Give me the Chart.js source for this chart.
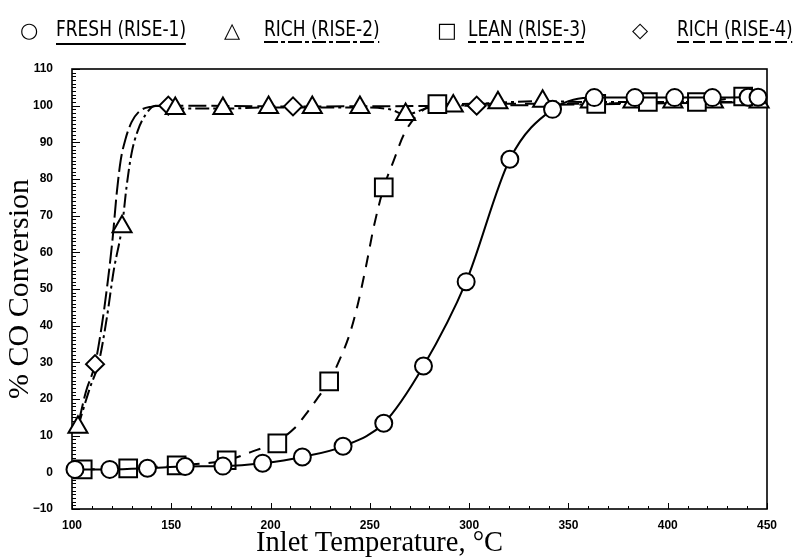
<!DOCTYPE html>
<html><head><meta charset="utf-8">
<script src="https://cdn.jsdelivr.net/npm/chart.js@4.4.1/dist/chart.umd.min.js"></script>
<style>
html,body{margin:0;padding:0;background:#fff;}
#wrap{position:relative;width:799px;height:558px;}
#c{position:absolute;left:0;top:0;}
#legend{position:absolute;left:0;top:0;width:799px;height:60px;color:#000;}
.sym{position:absolute;top:18px;font-family:'DejaVu Sans',sans-serif;font-weight:bold;font-size:21px;line-height:24px;}
.lab{position:absolute;top:18px;font-family:'Liberation Sans Narrow','DejaVu Sans Condensed','Liberation Sans',sans-serif;font-size:22px;line-height:22px;white-space:nowrap;padding-bottom:3px;transform:scaleX(0.86);transform-origin:0 0;}
.u1{border-bottom:2px solid #000;}
.u2{background:repeating-linear-gradient(to right,#000 0 16px,transparent 16px 20px,#000 20px 24px,transparent 24px 28px) left bottom/100% 2px no-repeat;}
.u3{background:repeating-linear-gradient(to right,#000 0 9px,transparent 9px 14px) left bottom/100% 2px no-repeat;}
.u4{background:repeating-linear-gradient(to right,#000 0 14px,transparent 14px 19px) left bottom/100% 2px no-repeat;}
#xtitle{position:absolute;left:256px;top:528px;font-family:'Liberation Serif',serif;font-size:28.5px;line-height:28px;white-space:nowrap;color:#000;}
</style>
</head><body>
<div id="wrap">
<canvas id="c" width="799" height="558"></canvas>
<div id="legend">
<span class="sym" style="left:20px">○</span><span class="lab u1" style="left:56px">FRESH (RISE-1)</span>
<span class="sym" style="left:224px">△</span><span class="lab u2" style="left:264px">RICH (RISE-2)</span>
<span class="sym" style="left:437px">□</span><span class="lab u3" style="left:468px">LEAN (RISE-3)</span>
<span class="sym" style="left:632px">◇</span><span class="lab u4" style="left:677px">RICH (RISE-4)</span>
</div>
<div id="xtitle">Inlet Temperature, °C</div>
</div>
<script>
// ---- data ----
const xTickValues = [100, 150, 200, 250, 300, 350, 400, 450];
const yTickValues = [-10, 0, 10, 20, 30, 40, 50, 60, 70, 80, 90, 100, 110];

const freshX = [101.5, 119, 138, 157, 176, 196, 216, 236.5, 257, 277, 298.5, 320.5, 342, 363, 383.5, 403.5, 422.5, 440.5, 445.5];
const freshY = [0.8, 0.8, 1.1, 1.6, 1.7, 2.5, 4.2, 7.1, 13.4, 29, 52, 85.4, 99, 102.2, 102.2, 102.2, 102.2, 102.3, 102.3];

const rich2X = [103, 125.2, 152, 176, 199, 221, 245, 268, 292, 314.5, 337, 361, 382.5, 402.6, 423, 446];
const rich2Y = [12.3, 67, 99.2, 99.2, 99.5, 99.5, 99.5, 97.6, 99.9, 100.8, 101.2, 101, 101, 101, 101, 101];

const leanX = [105.4, 128.3, 152.7, 177.9, 203.4, 229.5, 257, 284, 364, 390, 414.7, 438];
const leanY = [0.8, 1.1, 1.9, 3.3, 7.9, 24.8, 77.7, 100.4, 100.5, 101, 101, 102.5];

const rich4X = [111.6, 148.5, 211.3, 303.8];
const rich4Y = [29.5, 100, 99.8, 100];

// fitted curves as drawn in the reference
const rich2CurveX = [103, 105, 109, 113.5, 117.5, 121, 125.2, 127.5, 130, 133, 137, 142, 152, 176, 199, 221, 245, 260, 268, 280, 292, 314.5, 337, 361, 382.5, 402.6, 423, 446];
const rich2CurveY = [12.3, 16, 23, 30, 42, 55, 67, 78, 87, 93, 97.5, 100, 99.2, 99.2, 99.5, 99.5, 99.5, 99, 97.6, 99.5, 99.9, 100.8, 101.2, 101, 101, 101, 101, 101];

const rich4CurveX = [103.5, 107, 111.6, 115, 118, 120.5, 122.5, 124.5, 127, 130, 134, 140, 148.5, 211.3, 303.8, 446];
const rich4CurveY = [14, 22, 29.5, 40, 52, 64, 76, 85, 91, 95.5, 98.5, 99.7, 100, 99.8, 100, 101];

const leanCurveX = [105.4, 128.3, 152.7, 177.9, 190, 203.4, 212, 218, 224, 229.5, 235, 240, 244, 248, 252, 257, 262, 267, 274, 284, 310, 337, 364, 390, 414.7, 438];
const leanCurveY = [0.8, 1.1, 1.9, 3.3, 5.5, 8.5, 12, 16, 20.5, 24.8, 31, 38, 46, 56, 67, 77.7, 85, 92, 97.5, 100.4, 100.5, 100.5, 100.5, 101, 101, 102.5];

const zip = (xs, ys) => xs.map((x, i) => ({x: x, y: ys[i]}));

const marker = (label, xs, ys, style, r, order, line) => ({
  label: label, data: zip(xs, ys), pointStyle: style, pointRadius: r, pointHoverRadius: r,
  pointBackgroundColor: '#fff', pointBorderColor: '#000', pointBorderWidth: 2,
  showLine: !!line, borderColor: '#000', borderWidth: 2, cubicInterpolationMode: 'monotone',
  order: order, clip: false
});
const curve = (label, xs, ys, dash) => ({
  label: label, data: zip(xs, ys), pointRadius: 0, showLine: true, borderColor: '#000',
  borderWidth: 2, borderDash: dash, cubicInterpolationMode: 'monotone', order: 10, clip: false
});

const frame = {
  id: 'frame',
  beforeDatasetsDraw(chart) {
    const {ctx, chartArea: a, scales: {x, y}} = chart;
    ctx.save();
    ctx.strokeStyle = '#000';
    ctx.lineWidth = 1.6;
    ctx.strokeRect(a.left, a.top, a.right - a.left, a.bottom - a.top);
    ctx.lineWidth = 1;
    for (let v = y.min; v <= y.max; v++) {
      const py = Math.round(y.getPixelForValue(v)) + 0.5;
      const len = v % 10 === 0 ? 8 : 4;
      ctx.beginPath(); ctx.moveTo(a.left, py); ctx.lineTo(a.left + len, py); ctx.stroke();
    }
    for (let v = x.min; v <= x.max; v += 10) {
      const px = Math.round(x.getPixelForValue(v)) + 0.5;
      const len = v % 50 === 0 ? 6 : 3;
      ctx.beginPath(); ctx.moveTo(px, a.bottom); ctx.lineTo(px, a.bottom - len); ctx.stroke();
    }
    ctx.restore();
  }
};

const tickFont = {family: "'Liberation Sans', Arial, sans-serif", weight: 'bold', size: 12};

new Chart(document.getElementById('c'), {
  type: 'scatter',
  data: {
    datasets: [
      marker('FRESH (RISE-1)', freshX, freshY, 'circle', 8.5, 0, true),
      marker('LEAN (RISE-3)', leanX, leanY, 'rect', 12.5, 1, false),
      marker('RICH (RISE-2)', rich2X, rich2Y, 'triangle', 11, 2, false),
      marker('RICH (RISE-4)', rich4X, rich4Y, 'rectRot', 9, 3, false),
      curve('RICH (RISE-2) curve', rich2CurveX, rich2CurveY, [14, 4, 3, 4]),
      curve('RICH (RISE-4) curve', rich4CurveX, rich4CurveY, [18, 5]),
      curve('LEAN (RISE-3) curve', leanCurveX, leanCurveY, [12, 9])
    ]
  },
  plugins: [frame],
  options: {
    responsive: false,
    animation: false,
    layout: {padding: {top: 69, right: 32, left: 0, bottom: 0}},
    plugins: {legend: {display: false}, tooltip: {enabled: false}},
    scales: {
      x: {
        type: 'linear', min: 100, max: 450,
        afterBuildTicks: s => { s.ticks = xTickValues.map(v => ({value: v})); },
        afterFit: s => { s.height = 49; },
        ticks: {font: tickFont, color: '#000', padding: 9, maxRotation: 0},
        grid: {display: false, drawTicks: false},
        border: {display: false},
        title: {display: false}
      },
      y: {
        type: 'linear', min: -10, max: 110,
        afterBuildTicks: s => { s.ticks = yTickValues.map(v => ({value: v})); },
        afterFit: s => { s.width = 72; },
        ticks: {font: tickFont, color: '#000', padding: 19,
                callback: v => v < 0 ? '\u2212' + Math.abs(v) : String(v)},
        grid: {display: false, drawTicks: false},
        border: {display: false},
        title: {display: true, text: '% CO Conversion', color: '#000',
                font: {family: "'Liberation Serif', serif", size: 30, lineHeight: 1}, padding: {top: 5, bottom: 0}}
      }
    }
  }
});
</script>
</body></html>
